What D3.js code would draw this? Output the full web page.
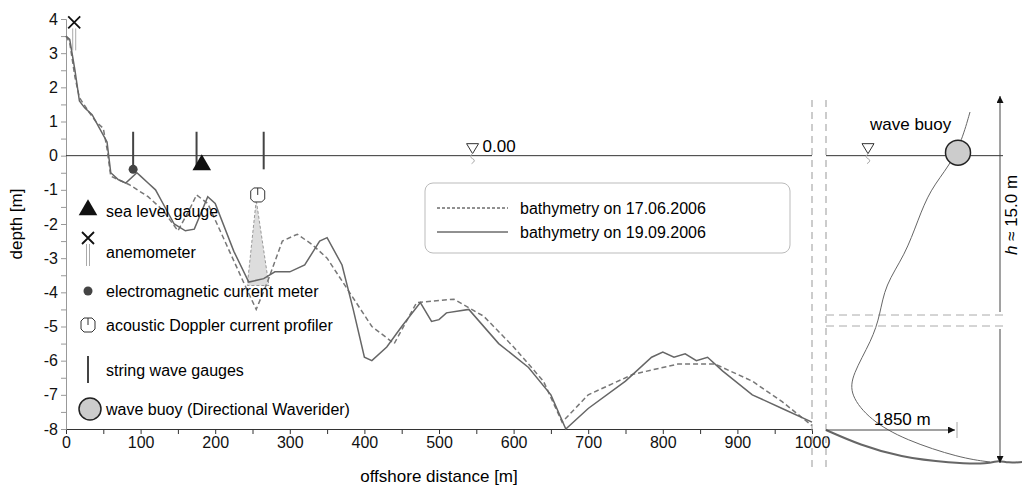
<!DOCTYPE html>
<html><head><meta charset="utf-8">
<script src="https://cdn.jsdelivr.net/npm/d3@7"></script>
<style>body{margin:0;background:#fff}text{font-family:"Liberation Sans",Arial,sans-serif}</style>
</head><body>
<script>
// bathymetry profiles [offshore distance m, depth m]
var bathy1706 = [[0,3.5],[5,3.3],[12,2.3],[18,1.7],[30,1.3],[40,1.0],[50,0.8],[55,0.2],[60,-0.6],[85,-0.85],[110,-1.2],[130,-1.6],[150,-2.2],[165,-1.6],[175,-1.15],[190,-1.4],[215,-2.6],[240,-3.8],[255,-4.5],[270,-3.7],[290,-2.5],[310,-2.3],[330,-2.6],[350,-3.0],[380,-4.0],[410,-5.0],[440,-5.5],[470,-4.3],[520,-4.2],[560,-4.7],[600,-5.6],[640,-6.6],[665,-7.8],[700,-7.0],[760,-6.4],[820,-6.1],[870,-6.1],[920,-6.6],[960,-7.2],[1000,-7.9]];
var bathy1909 = [[0,3.5],[5,3.4],[12,2.5],[18,1.6],[25,1.4],[35,1.2],[45,0.8],[55,0.4],[60,-0.5],[70,-0.7],[80,-0.8],[95,-0.5],[100,-0.6],[110,-0.8],[120,-1.0],[130,-1.4],[145,-2.0],[160,-2.2],[172,-2.15],[190,-1.2],[200,-1.4],[225,-2.8],[245,-3.7],[265,-3.6],[280,-3.4],[300,-3.4],[320,-3.2],[340,-2.5],[350,-2.4],[370,-3.2],[385,-4.5],[400,-5.9],[410,-6.0],[430,-5.6],[450,-5.0],[475,-4.3],[490,-4.85],[500,-4.8],[510,-4.6],[540,-4.5],[580,-5.5],[620,-6.2],[650,-7.0],[670,-8.0],[700,-7.4],[750,-6.6],[785,-5.9],[800,-5.75],[815,-5.9],[830,-5.8],[845,-6.0],[860,-5.9],[880,-6.3],[920,-7.0],[960,-7.4],[1000,-7.8]];
var stringGauges = [90, 175, 265];
var legendItems = ["bathymetry on 17.06.2006","bathymetry on 19.09.2006"];
var symbolItems = ["sea level gauge","anemometer","electromagnetic current meter","acoustic Doppler current profiler","string wave gauges","wave buoy (Directional Waverider)"];

var svg = d3.select("body").append("svg").attr("width",1022).attr("height",486);
var x = d3.scaleLinear().domain([0,1000]).range([66,812]);
var y = d3.scaleLinear().domain([-8,4]).range([429,19]);
var ink = "#333", fs = 16;

// axes
svg.append("g").attr("transform","translate(0,429)")
  .call(d3.axisBottom(x).tickValues(d3.range(0,1001,50)).tickSize(5).tickFormat(function(d){return d%100==0?d:"";}))
  .call(function(g){g.select(".domain").attr("stroke",ink);g.selectAll("line").attr("stroke",ink);g.selectAll("text").attr("font-size",fs).attr("fill","#111");});
svg.append("g").attr("transform","translate(66,0)")
  .call(d3.axisLeft(y).tickValues(d3.range(-8,4.01,0.5)).tickSize(5).tickFormat(function(d){return Number.isInteger(d)?d:"";}))
  .call(function(g){g.select(".domain").attr("stroke","#999");g.selectAll("line").attr("stroke","#999");g.selectAll("text").attr("font-size",fs).attr("fill","#111");});
svg.append("text").attr("x",439).attr("y",482).attr("text-anchor","middle").attr("font-size",17).text("offshore distance [m]");
svg.append("text").attr("transform","translate(22,224) rotate(-90)").attr("text-anchor","middle").attr("font-size",17).text("depth [m]");

// sea level line
svg.append("line").attr("x1",x(0)).attr("x2",x(1000)).attr("y1",y(0)).attr("y2",y(0)).attr("stroke",ink);
function waterSign(cx, cy){
  svg.append("path").attr("d","M"+(cx-6)+","+(cy-12)+"h12l-6,10z").attr("fill","none").attr("stroke",ink);
  svg.append("path").attr("d","M"+cx+","+(cy-2)+"q-4,3 0,5q4,2 -1,5").attr("fill","none").attr("stroke","#aaa");
}
waterSign(x(545), y(0));
svg.append("text").attr("x",x(545)+10).attr("y",y(0)-4).attr("font-size",17).text("0.00");

// ADCP cone
svg.append("path").attr("d","M"+x(255)+","+y(-1.3)+"L"+x(243)+","+y(-3.8)+"L"+x(272)+","+y(-3.8)+"Z")
  .attr("fill","#ddd").attr("stroke","#999").attr("stroke-dasharray","3,2");

var line = d3.line().x(function(d){return x(d[0]);}).y(function(d){return y(d[1]);});
svg.append("path").datum(bathy1706).attr("d",line).attr("fill","none").attr("stroke","#777").attr("stroke-width",1.5).attr("stroke-dasharray","5,3");
svg.append("path").datum(bathy1909).attr("d",line).attr("fill","none").attr("stroke","#666").attr("stroke-width",1.5);

// instruments
stringGauges.forEach(function(g){
  svg.append("line").attr("x1",x(g)).attr("x2",x(g)).attr("y1",y(0.7)).attr("y2",y(-0.4)).attr("stroke","#444").attr("stroke-width",2);
});
svg.append("circle").attr("cx",x(90)).attr("cy",y(-0.4)).attr("r",4.5).attr("fill","#444");
svg.append("path").attr("d",d3.symbol(d3.symbolTriangle,150)()).attr("transform","translate("+x(182)+","+(y(-0.3)-1)+")").attr("fill","#111");
function adcp(cx, cy){
  svg.append("path").attr("d","M"+(cx-4)+","+(cy-7)+"h8l3,3v8l-3,3h-8l-3,-3v-8z").attr("fill","#fff").attr("stroke",ink);
  svg.append("line").attr("x1",cx).attr("x2",cx).attr("y1",cy-7).attr("y2",cy).attr("stroke",ink);
}
adcp(x(257), y(-1.15));
function anemo(cx, cy){
  svg.append("path").attr("d","M"+(cx-6)+","+(cy-6)+"l12,12M"+(cx+6)+","+(cy-6)+"l-12,12").attr("stroke","#111").attr("stroke-width",1.8);
  svg.append("path").attr("d","M"+(cx-1.5)+","+(cy+6)+"v22M"+(cx+1.5)+","+(cy+6)+"v22").attr("stroke","#aaa");
}
anemo(x(11), y(3.9));

// symbol legend
var sy = [211,252,291,325,370,409];
symbolItems.forEach(function(t,i){
  svg.append("text").attr("x",106).attr("y",sy[i]+6).attr("font-size",fs).text(t);
});
svg.append("path").attr("d",d3.symbol(d3.symbolTriangle,150)()).attr("transform","translate(88,210)").attr("fill","#111");
anemo(88,238);
svg.append("circle").attr("cx",88).attr("cy",291).attr("r",4.5).attr("fill","#444");
adcp(88,325);
svg.append("line").attr("x1",88).attr("x2",88).attr("y1",356).attr("y2",383).attr("stroke","#444").attr("stroke-width",2);
svg.append("circle").attr("cx",90).attr("cy",409).attr("r",11).attr("fill","#ccc").attr("stroke","#222").attr("stroke-width",1.5);

// line legend
svg.append("rect").attr("x",425).attr("y",183).attr("width",365).attr("height",70).attr("rx",8).attr("fill","#fff").attr("stroke","#bbb");
legendItems.forEach(function(t,i){
  var ly = 208 + i*24;
  svg.append("line").attr("x1",437).attr("x2",508).attr("y1",ly).attr("y2",ly).attr("stroke","#222").attr("stroke-dasharray",i==0?"3,2":null);
  svg.append("text").attr("x",520).attr("y",ly+6).attr("font-size",fs).text(t);
});

// right schematic panel (pixel-space scales)
var rx = d3.scaleLinear().domain([0,1]).range([812,1022]);
var ry = d3.scaleLinear().domain([0,1]).range([0,486]);
[0,14/210].forEach(function(v){
  svg.append("line").attr("x1",rx(v)).attr("x2",rx(v)).attr("y1",ry(100/486)).attr("y2",ry(470/486)).attr("stroke","#999").attr("stroke-dasharray","7,5");
});
svg.append("line").attr("x1",826).attr("x2",1003).attr("y1",y(0)).attr("y2",y(0)).attr("stroke",ink);
waterSign(868, y(0));
[315,326].forEach(function(v){
  svg.append("line").attr("x1",826).attr("x2",1006).attr("y1",v).attr("y2",v).attr("stroke","#aaa").attr("stroke-dasharray","8,5");
});
var mooring = [[970,112],[962,140],[950,165],[930,190],[918,220],[905,255],[885,285],[880,315],[872,340],[852,375],[850,395],[870,420],[905,440],[960,458],[990,462]];
svg.append("path").datum(mooring).attr("d",d3.line().curve(d3.curveBasis)).attr("fill","none").attr("stroke","#666");
var seabed = [[826,430],[860,445],[900,457],[950,463],[990,464],[998,460],[1008,463],[1022,462]];
svg.append("path").datum(seabed).attr("d",d3.line().curve(d3.curveBasis)).attr("fill","none").attr("stroke","#666").attr("stroke-width",2);
svg.append("circle").attr("cx",958).attr("cy",y(0)-3).attr("r",12.5).attr("fill","#ccc").attr("stroke","#222").attr("stroke-width",1.5);
svg.append("text").attr("x",870).attr("y",130).attr("font-size",17).text("wave buoy");
var defs = svg.append("defs");
defs.append("marker").attr("id","ar").attr("viewBox","0 0 10 10").attr("refX",10).attr("refY",5).attr("markerWidth",7).attr("markerHeight",7).attr("orient","auto-start-reverse")
  .append("path").attr("d","M0,0L10,5L0,10z").attr("fill","#111");
svg.append("line").attr("x1",1000).attr("x2",1000).attr("y1",312).attr("y2",96).attr("stroke","#444").attr("marker-end","url(#ar)");
svg.append("line").attr("x1",1000).attr("x2",1000).attr("y1",329).attr("y2",463).attr("stroke","#444").attr("marker-end","url(#ar)");
svg.append("text").attr("transform","translate(1017,215) rotate(-90)").attr("text-anchor","middle").attr("font-size",17)
  .html('<tspan font-style="italic">h</tspan> ≈ 15.0 m');
svg.append("line").attr("x1",826).attr("x2",955).attr("y1",430).attr("y2",430).attr("stroke","#444").attr("marker-end","url(#ar)");
svg.append("line").attr("x1",957).attr("x2",957).attr("y1",422).attr("y2",438).attr("stroke","#aaa");
svg.append("text").attr("x",874).attr("y",425).attr("font-size",17).text("1850 m");
</script>
</body></html>
